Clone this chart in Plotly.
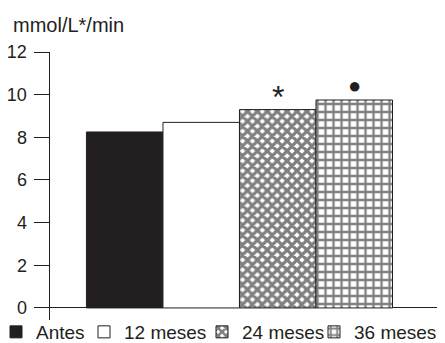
import plotly.graph_objects as go

categories = ["Antes", "12 meses", "24 meses", "36 meses"]
values = [8.25, 8.7, 9.3, 9.75]
marks = ["", "", "*", "●"]
y_ticks = [0, 2, 4, 6, 8, 10, 12]

INK = "#231f20"
FONT = "Liberation Sans, Arial, sans-serif"

# figure size and layout geometry (figure pixels)
W, H = 445, 343
PLOT_L, PLOT_R = 41.5, 432.7      # x of y-axis line, right end of baseline
PLOT_T, PLOT_B = 44.3, 311.7      # y=12 level, bottom end of y-axis line
X_RANGE = [-0.983, 4.13]
Y_RANGE = [-0.55, 12]
LEGEND_LEFT = [0, 76, 194, 306]   # left edge of each legend entry
LEGEND_INDENT = [-12, 0, 0, 0]

ml, mr, mt, mb = 0, 0, PLOT_T, 0
paper_w = W - ml - mr
paper_h = H - mt - mb

legend_ids = ["legend", "legend2", "legend3", "legend4"]

fig = go.Figure()
for i, (cat, val) in enumerate(zip(categories, values)):
    if i == 0:
        marker = dict(color=INK, line=dict(color=INK, width=1))
    elif i == 1:
        marker = dict(color="white", line=dict(color=INK, width=1))
    elif i == 2:
        marker = dict(color="white", line=dict(color=INK, width=1),
                      pattern=dict(shape="x", fgcolor="black", bgcolor="white",
                                   size=7, solidity=0.7, fillmode="overlay"))
    else:
        marker = dict(color="white", line=dict(color=INK, width=1),
                      pattern=dict(shape="+", fgcolor="black", bgcolor="white",
                                   size=8, solidity=0.5, fillmode="overlay"))
    fig.add_trace(go.Bar(x=[i], y=[val], width=1, name=cat, marker=marker,
                         legend=legend_ids[i]))

for i, (val, m) in enumerate(zip(values, marks)):
    if m:
        star = m == "*"
        fig.add_annotation(x=i, y=val, text=m, showarrow=False, yanchor="bottom",
                           yshift=-7 if star else 0,
                           font=dict(size=32 if star else 22, color=INK, family=FONT))

# small tick at the right end of the baseline
fig.add_shape(type="line", xref="x", yref="y", x0=X_RANGE[1], x1=X_RANGE[1],
              y0=0, y1=-0.5, line=dict(color=INK, width=1))

legend_style = dict(orientation="h", xanchor="left", y=0.0, yanchor="bottom",
                    font=dict(size=19, color=INK, family=FONT),
                    itemwidth=30, bgcolor="rgba(0,0,0,0)", borderwidth=0)
layout_legends = {}
for lid, left, ind in zip(legend_ids, LEGEND_LEFT, LEGEND_INDENT):
    layout_legends[lid] = dict(legend_style, x=left / paper_w, indentation=ind)

fig.update_layout(
    width=W, height=H,
    margin=dict(l=ml, r=mr, t=mt, b=mb),
    paper_bgcolor="white", plot_bgcolor="white",
    barmode="overlay",
    showlegend=True,
    font=dict(family=FONT, color=INK),
    **layout_legends,
)
fig.add_annotation(xref="paper", yref="paper", x=3 / paper_w, y=1.0, xanchor="left",
                   yanchor="bottom", yshift=14, text="mmol/L*/min", showarrow=False,
                   font=dict(size=20, color=INK, family=FONT))

fig.update_xaxes(domain=[(PLOT_L - ml) / paper_w, (PLOT_R - ml) / paper_w], range=X_RANGE,
                 showline=False, showticklabels=False, automargin=False,
                 ticks="", showgrid=False, zeroline=False)
fig.update_yaxes(domain=[(H - mb - PLOT_B) / paper_h, 1], range=Y_RANGE, tickvals=y_ticks,
                 ticks="outside", ticklen=15, automargin=False,
                 tickcolor=INK, tickwidth=1, showline=True, linecolor=INK, linewidth=1,
                 showgrid=False, zeroline=True, zerolinecolor=INK, zerolinewidth=1,
                 tickfont=dict(size=18, color=INK, family=FONT), ticklabelstandoff=3)

fig.write_html("out.html")
